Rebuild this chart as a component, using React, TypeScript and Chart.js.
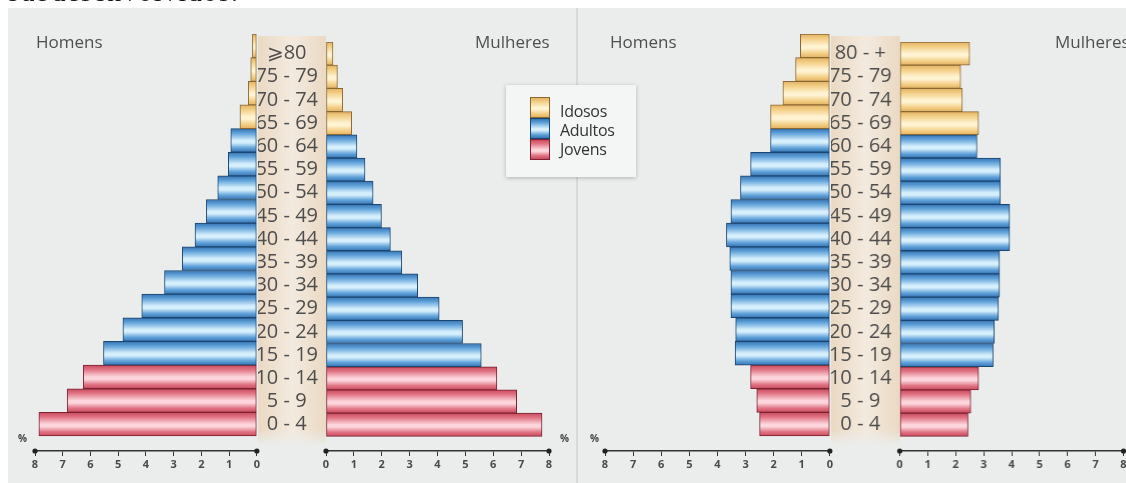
import { useEffect, useRef } from 'react';
import { Chart, registerables } from 'chart.js';

Chart.register(...registerables);

// ---- data (index 0 = youngest group, bottom row) ----
const ageGroupsA = ['0 - 4', '5 - 9', '10 - 14', '15 - 19', '20 - 24', '25 - 29', '30 - 34', '35 - 39', '40 - 44', '45 - 49', '50 - 54', '55 - 59', '60 - 64', '65 - 69', '70 - 74', '75 - 79', '⩾80'];
const ageGroupsB = ['0 - 4', '5 - 9', '10 - 14', '15 - 19', '20 - 24', '25 - 29', '30 - 34', '35 - 39', '40 - 44', '45 - 49', '50 - 54', '55 - 59', '60 - 64', '65 - 69', '70 - 74', '75 - 79', '80 - +'];
const ageClass = ['Jovens', 'Jovens', 'Jovens', 'Adultos', 'Adultos', 'Adultos', 'Adultos', 'Adultos', 'Adultos', 'Adultos', 'Adultos', 'Adultos', 'Adultos', 'Idosos', 'Idosos', 'Idosos', 'Idosos'];

const pyramidAHomens = [7.86, 6.84, 6.26, 5.53, 4.83, 4.15, 3.33, 2.69, 2.23, 1.82, 1.41, 1.03, 0.94, 0.61, 0.31, 0.22, 0.16];
const pyramidAMulheres = [7.75, 6.84, 6.13, 5.57, 4.9, 4.06, 3.29, 2.72, 2.31, 1.99, 1.69, 1.4, 1.11, 0.92, 0.6, 0.41, 0.25];
const pyramidBHomens = [2.5, 2.6, 2.82, 3.37, 3.35, 3.52, 3.52, 3.56, 3.68, 3.52, 3.18, 2.82, 2.11, 2.11, 1.67, 1.22, 1.05];
const pyramidBMulheres = [2.44, 2.54, 2.82, 3.34, 3.38, 3.53, 3.57, 3.57, 3.93, 3.93, 3.6, 3.6, 2.76, 2.82, 2.24, 2.18, 2.5];

const axisMin = 0;
const axisMax = 8;
const legendItems = ['Idosos', 'Adultos', 'Jovens'];
const sideTitles = ['Homens', 'Mulheres'];

// ---- styles ----
const PALETTE: Record<string, { top: string; light: string; bottom: string; border: string }> = {
  Jovens: { top: '#e17585', light: '#fcd6dc', bottom: '#c84a5c', border: '#7a2232' },
  Adultos: { top: '#62a3da', light: '#d6effc', bottom: '#3674b3', border: '#1b4670' },
  Idosos: { top: '#f3cf87', light: '#fff3d2', bottom: '#e3b262', border: '#8a6833' },
};

const FONT = "'Open Sans', 'DejaVu Sans', sans-serif";
const AREA_TOP = 26;
const AREA_H = 417;
const AXIS_H = 24;
const PAD_TOP = 4;
const PAD_BOTTOM = 4;
const Y_MIN = -1.134;
const Y_MAX = 16.5;

const axisDots = {
  id: 'axisDots',
  afterDraw(chart: any) {
    const s = chart.scales.x;
    const y = chart.chartArea.bottom;
    const ctx = chart.ctx;
    ctx.save();
    ctx.fillStyle = '#222';
    [s.min, s.max].forEach((v: number) => {
      ctx.beginPath();
      ctx.arc(s.getPixelForValue(v), y, 2.6, 0, Math.PI * 2);
      ctx.fill();
    });
    ctx.restore();
  },
};

function barFill(ctx: any) {
  const chart = ctx.chart;
  const pal = PALETTE[ageClass[ctx.dataIndex]] || PALETTE.Adultos;
  const ys = chart.scales && chart.scales.y;
  if (!ys || !chart.chartArea) return pal.top;
  const yc = ys.getPixelForValue(ctx.dataIndex);
  const h = Math.abs(ys.getPixelForValue(0) - ys.getPixelForValue(1));
  const g = chart.ctx.createLinearGradient(0, yc - h / 2, 0, yc + h / 2);
  g.addColorStop(0, pal.bottom);
  g.addColorStop(0.2, pal.top);
  g.addColorStop(0.5, pal.light);
  g.addColorStop(0.6, pal.light);
  g.addColorStop(0.82, pal.top);
  g.addColorStop(1, pal.bottom);
  return g;
}

type HalfProps = {
  areaLeft: number;
  areaWidth: number;
  values: number[];
  labels?: string[];
  band?: number;
  reverse?: boolean;
};

function HalfPyramid({ areaLeft, areaWidth, values, labels, band = 0, reverse = false }: HalfProps) {
  const ref = useRef<HTMLCanvasElement>(null);
  const padL = labels ? 0 : 12;
  const padR = labels ? 12 : 4;
  const left = areaLeft - band - padL;
  const width = padL + band + areaWidth + padR;
  const height = PAD_TOP + AREA_H + AXIS_H + PAD_BOTTOM;

  useEffect(() => {
    if (!ref.current) return;
    const chart = new Chart(ref.current, {
      type: 'bar',
      data: {
        datasets: [
          {
            data: values.map((v, i) => ({ x: v, y: i })),
            backgroundColor: barFill,
            borderColor: (c: any) => (PALETTE[ageClass[c.dataIndex]] || PALETTE.Adultos).border,
            borderWidth: 1,
            borderSkipped: false,
            barPercentage: 1,
            categoryPercentage: 1,
          } as any,
        ],
      },
      options: {
        indexAxis: 'y',
        animation: false,
        responsive: true,
        maintainAspectRatio: false,
        layout: { padding: { left: padL, right: padR, top: PAD_TOP, bottom: PAD_BOTTOM } },
        plugins: { legend: { display: false }, tooltip: { enabled: false } },
        scales: {
          x: {
            type: 'linear',
            min: axisMin,
            max: axisMax,
            reverse,
            position: 'bottom',
            offset: false,
            ticks: {
              stepSize: 1,
              maxRotation: 0,
              autoSkip: false,
              padding: 2,
              color: '#4a4a4a',
              font: { family: FONT, size: 11, weight: 'bold' },
            },
            grid: { display: true, drawOnChartArea: false, drawTicks: true, tickLength: 5, color: '#333', lineWidth: 1 },
            border: { display: true, color: '#333', width: 1.5 },
            afterFit: (s: any) => {
              s.height = AXIS_H;
            },
          },
          y: {
            type: 'linear',
            min: Y_MIN,
            max: Y_MAX,
            offset: false,
            display: !!labels,
            position: 'left',
            afterBuildTicks: (s: any) => {
              s.ticks = values.map((_, i) => ({ value: i }));
            },
            ticks: {
              autoSkip: false,
              padding: 0,
              crossAlign: 'center',
              color: '#4d4d4d',
              font: { family: FONT, size: 20 },
              callback: (v: any) => (labels ? labels[v as number] ?? '' : ''),
            },
            grid: { display: false, offset: false },
            border: { display: false },
            afterFit: (s: any) => {
              s.width = band;
            },
          },
        },
      } as any,
      plugins: [axisDots],
    });
    return () => chart.destroy();
  }, []);

  return (
    <div style={{ position: 'absolute', left, top: AREA_TOP - PAD_TOP, width, height }}>
      <canvas ref={ref} style={{ display: 'block' }} />
    </div>
  );
}

const textStyle: any = {
  position: 'absolute',
  fontFamily: FONT,
  fontSize: 17,
  lineHeight: '20px',
  color: '#4f4f4f',
  whiteSpace: 'nowrap',
};

const pctStyle: any = {
  position: 'absolute',
  fontFamily: FONT,
  fontSize: 10,
  fontWeight: 'bold',
  lineHeight: '14px',
  color: '#444',
};

function Band({ left, width }: { left: number; width: number }) {
  return (
    <div
      style={{
        position: 'absolute',
        left,
        top: AREA_TOP + 2,
        width,
        height: 410,
        background:
          'linear-gradient(to bottom, rgba(235,238,237,0) 0%, rgba(235,238,237,0) 96%, rgba(235,238,237,1) 100%), linear-gradient(to right, #ead9c3 0%, #f3eadf 50%, #ead9c3 100%)',
      }}
    />
  );
}

function Legend() {
  return (
    <div
      style={{
        position: 'absolute',
        left: 498,
        top: 77,
        width: 130,
        height: 92,
        background: '#f4f5f5',
        boxShadow: '0 1px 4px rgba(0,0,0,0.25)',
      }}
    >
      {legendItems.map((name, i) => {
        const pal = PALETTE[name];
        return (
          <div key={name}>
            <div
              style={{
                position: 'absolute',
                left: 24,
                top: 12 + i * 21,
                width: 20,
                height: 21,
                boxSizing: 'border-box',
                border: `1px solid ${pal.border}`,
                background: `linear-gradient(to bottom, ${pal.bottom} 0%, ${pal.top} 20%, ${pal.light} 50%, ${pal.light} 60%, ${pal.top} 82%, ${pal.bottom} 100%)`,
              }}
            />
            <div
              style={{
                position: 'absolute',
                left: 54,
                top: 16 + i * 19,
                fontFamily: FONT,
                fontSize: 16,
                lineHeight: '20px',
                color: '#333',
                letterSpacing: '-0.3px',
              }}
            >
              {name}
            </div>
          </div>
        );
      })}
    </div>
  );
}

export default function App() {
  return (
    <div style={{ position: 'fixed', left: 8, top: 8, width: 1118, height: 475 }}>
      <div
        style={{
          position: 'absolute',
          left: 0,
          top: -30,
          fontFamily: "'Liberation Serif', serif",
          fontSize: 28,
          lineHeight: '28px',
          letterSpacing: '1.5px',
          color: '#111',
          whiteSpace: 'nowrap',
        }}
      >
        subdesenvolvidos.
      </div>
      <div
        style={{
          position: 'absolute',
          left: 0,
          top: 0,
          width: 1118,
          height: 475,
          overflow: 'hidden',
          background: '#ebeded',
        }}
      >
        <div style={{ position: 'absolute', left: 568, top: 0, width: 2, height: 475, background: '#d6dada' }} />

        <Band left={250} width={68} />
        <Band left={823} width={68.5} />

        <HalfPyramid areaLeft={27} areaWidth={223} values={pyramidAHomens} reverse />
        <HalfPyramid areaLeft={318} areaWidth={223} values={pyramidAMulheres} labels={ageGroupsA} band={68} />
        <HalfPyramid areaLeft={597} areaWidth={226} values={pyramidBHomens} reverse />
        <HalfPyramid areaLeft={891.5} areaWidth={223} values={pyramidBMulheres} labels={ageGroupsB} band={68.5} />

        <div style={{ ...textStyle, left: 28, top: 24 }}>{sideTitles[0]}</div>
        <div style={{ ...textStyle, left: 467, top: 24 }}>{sideTitles[1]}</div>
        <div style={{ ...textStyle, left: 602, top: 24 }}>{sideTitles[0]}</div>
        <div style={{ ...textStyle, left: 1047, top: 24 }}>{sideTitles[1]}</div>

        <div style={{ ...pctStyle, left: 10, top: 423 }}>%</div>
        <div style={{ ...pctStyle, left: 552, top: 423 }}>%</div>
        <div style={{ ...pctStyle, left: 582, top: 423 }}>%</div>

        <Legend />
      </div>
    </div>
  );
}
